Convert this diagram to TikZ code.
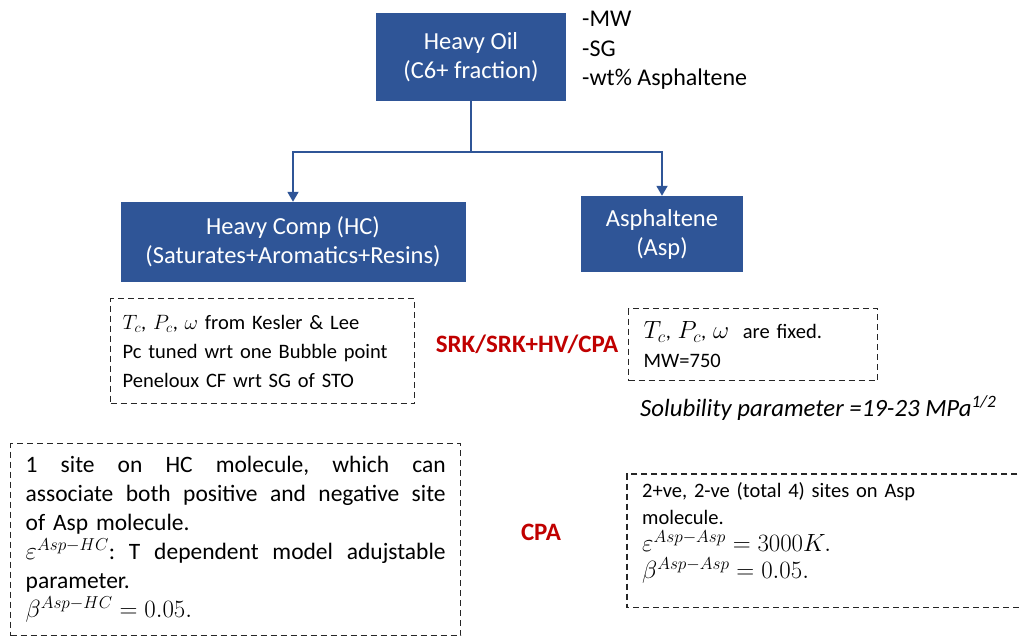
\documentclass[tikz,border=0pt]{standalone}
\usepackage{fontspec}
\setmainfont{Carlito}
\usetikzlibrary{arrows.meta}
\definecolor{boxblue}{RGB}{47,85,151}
\definecolor{labred}{RGB}{192,0,0}
\newcommand{\mth}[2]{{\fontsize{#1}{#1}\selectfont$#2$}}
\newcommand{\fullline}[1]{\leavevmode\hbox to 420pt{#1}}
\newcommand{\wgap}{\hfill}
\begin{document}
\begin{tikzpicture}[x=1pt,y=-1pt,
  bluebox/.style={fill=boxblue,text=white,align=center,inner sep=0pt,
    font=\fontsize{24.5}{29}\selectfont},
  dashbox/.style={draw=black!85,line width=1.4pt,dash pattern=on 6pt off 4pt,
    anchor=north west,inner ysep=0pt,align=left},
  conn/.style={draw=boxblue,line width=1.8pt},
  arr/.style={conn,-{Triangle[width=11pt,length=10pt]}},
  redlabel/.style={text=labred,font=\fontsize{25}{28}\selectfont\bfseries},
  body/.style={font=\fontsize{20.5}{29}\selectfont}
]
\useasboundingbox (0,0) rectangle (1020,635);

% top box
\node[bluebox,minimum width=190pt,minimum height=88pt] (oil) at (471,57)
  {Heavy Oil\\(C6+ fraction)};
\node[anchor=north west,align=left,inner sep=0pt,
  font=\fontsize{24}{29.5}\selectfont] (props) at (582,11)
  {-MW\\-SG\\-wt\% Asphaltene};

% second level boxes
\node[bluebox,minimum width=345pt,minimum height=80pt] (hc) at (293,242)
  {Heavy Comp (HC)\\(Saturates+Aromatics+Resins)};
\node[bluebox,minimum width=162pt,minimum height=76pt] (asp) at (662,234)
  {Asphaltene\\(Asp)};

% connectors
\coordinate (j) at (471,152);
\draw[conn] (oil.south) -- (j);
\draw[arr] (j) -| (hc.north);
\draw[arr] (j) -| (asp.north);

% dashed box 1
\node[dashbox,body,minimum width=304pt,minimum height=105pt,inner xsep=12pt,
  text width=280pt] (b1) at (110,298)
  {\mth{22.5}{T_c}, \mth{22.5}{P_c}, \mth{22.5}{\omega} from Kesler \& Lee\\
   Pc tuned wrt one Bubble point\\
   Peneloux CF wrt SG of STO};

\node[redlabel] (srk) at (527,344) {SRK/SRK+HV/CPA};

% dashed box 2
\node[dashbox,body,minimum width=249pt,minimum height=72pt,inner xsep=15pt,
  text width=219pt] (b2) at (628,308)
  {\mth{23.5}{T_c}, \mth{23.5}{P_c}, \mth{23.5}{\omega}\ \ are fixed.\\ MW=750};

\node[anchor=west,inner sep=0pt,font=\fontsize{24.8}{28}\selectfont\itshape]
  (sol) at (640,408) {Solubility parameter =19-23 MPa\textsuperscript{1/2}};

% dashed box 3
\node[dashbox,minimum width=450pt,minimum height=192pt,inner xsep=15pt,
  text width=420pt,font=\fontsize{23.5}{29}\selectfont] (b3) at (10,443)
  {\fullline{1\wgap site\wgap on\wgap HC\wgap molecule,\wgap which\wgap can}\\
   \fullline{associate\wgap both\wgap positive\wgap and\wgap negative\wgap site}\\
   of Asp molecule.\\
   \fullline{\mth{24}{\varepsilon^{Asp-HC}}:\wgap T\wgap dependent\wgap model\wgap adujstable}\\
   parameter.\\
   \mth{24}{\beta^{Asp-HC}=0.05.}};

\node[redlabel] (cpa) at (541,532) {CPA};

% dashed box 4 (right edge runs off the picture)
\node[minimum width=400pt,minimum height=133pt,anchor=north west,inner sep=0pt] (b4) at (627,474) {};
\draw[draw=black!85,line width=1.4pt,dash pattern=on 6pt off 4pt]
  (b4.north east) -- (b4.north west) -- (b4.south west) -- (b4.south east);
\node[anchor=north west,inner sep=0pt,align=left,text width=360pt,
  font=\fontsize{20.5}{27}\selectfont] (b4t) at (642,482)
  {2+ve, 2-ve (total 4) sites on Asp\\
   molecule.\\
   \mth{24}{\varepsilon^{Asp-Asp}=3000K.}\\
   \mth{24}{\beta^{Asp-Asp}=0.05.}};
\end{tikzpicture}
\end{document}
